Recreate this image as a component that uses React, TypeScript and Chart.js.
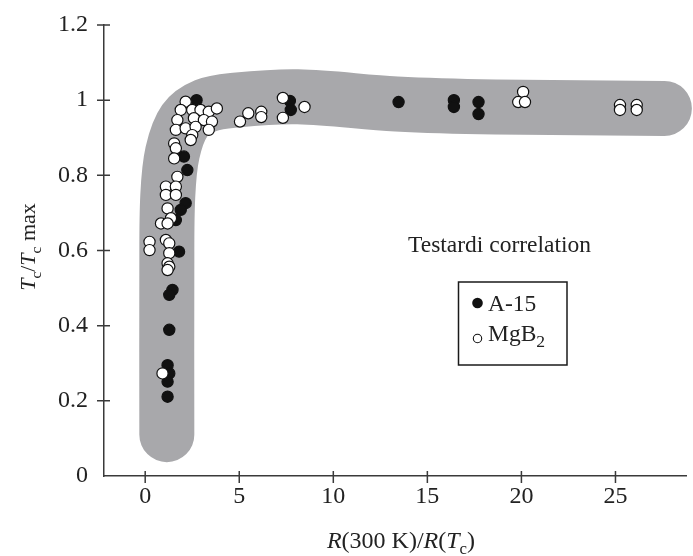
import React, { useEffect, useRef } from 'react';
import { Chart, registerables } from 'chart.js';

Chart.register(...registerables);

// ---- data ----
const seriesNames = ['A-15', 'MgB2'];
const annotationText = 'Testardi correlation';

const xTicks = [0, 5, 10, 15, 20, 25];
const yTicks = [0, 0.2, 0.4, 0.6, 0.8, 1, 1.2];

const a15X = [2.73, 2.06, 2.24, 2.15, 1.89, 1.63, 1.8, 1.45, 1.28, 1.28, 1.19, 1.28, 1.19, 1.19, 7.69, 7.74, 13.47, 16.41, 16.41, 17.72, 17.72];
const a15Y = [1.0, 0.85, 0.814, 0.726, 0.708, 0.681, 0.597, 0.495, 0.482, 0.389, 0.295, 0.273, 0.251, 0.211, 0.998, 0.974, 0.995, 1.0, 0.982, 0.995, 0.963];

const mgb2X = [2.15, 1.89, 2.5, 2.94, 3.38, 3.81, 1.71, 2.59, 3.12, 3.55, 1.63, 2.15, 2.68, 3.38, 2.5, 2.42, 1.54, 1.63, 1.54, 1.71, 1.1, 1.63, 1.1, 1.63, 1.19, 1.37, 0.84, 1.19, 0.23, 0.23, 1.1, 1.28, 1.28, 1.19, 1.28, 1.19, 0.92, 5.04, 5.48, 6.17, 6.17, 7.32, 7.32, 8.47, 20.09, 19.83, 20.19, 25.24, 25.24, 26.13, 26.13];
const mgb2Y = [0.996, 0.974, 0.974, 0.974, 0.969, 0.978, 0.947, 0.952, 0.947, 0.943, 0.921, 0.925, 0.929, 0.921, 0.907, 0.894, 0.885, 0.872, 0.845, 0.796, 0.77, 0.77, 0.748, 0.748, 0.712, 0.686, 0.672, 0.672, 0.623, 0.601, 0.628, 0.619, 0.593, 0.566, 0.557, 0.548, 0.273, 0.943, 0.965, 0.969, 0.955, 1.006, 0.953, 0.982, 1.022, 0.995, 0.995, 0.987, 0.974, 0.987, 0.974];

// centre line of the grey "Testardi correlation" band
const bandX = [1.15, 1.15, 1.2, 1.45, 2.1, 3.2, 4.8, 8.11, 13.36, 18.6, 27.6];
const bandY = [0.11, 0.55, 0.745, 0.86, 0.945, 0.985, 1.0, 1.009, 0.99, 0.982, 0.978];

// ---- styles ----
const SERIF = '"Liberation Serif", "Times New Roman", serif';
const INK = '#222222';
const AXIS = '#3a3a3a';
const BAND = '#a8a8ab';

const toPts = (xs: number[], ys: number[]) => xs.map((x, i) => ({ x, y: ys[i] }));

type Run = { t: string; italic?: boolean; sub?: boolean };

function drawRuns(ctx: CanvasRenderingContext2D, runs: Run[], x: number, y: number, size: number, align: 'left' | 'center', subScale = 0.7) {
  const fontFor = (r: Run) => `${r.italic ? 'italic ' : ''}${r.sub ? size * subScale : size}px ${SERIF}`;
  let total = 0;
  runs.forEach((r) => {
    ctx.font = fontFor(r);
    total += ctx.measureText(r.t).width;
  });
  let cx = align === 'center' ? x - total / 2 : x;
  ctx.textAlign = 'left';
  ctx.textBaseline = 'alphabetic';
  runs.forEach((r) => {
    ctx.font = fontFor(r);
    ctx.fillText(r.t, cx, y + (r.sub ? size * 0.25 : 0));
    cx += ctx.measureText(r.t).width;
  });
}

const decorPlugin = {
  id: 'decor',
  afterDraw(chart: any) {
    const { ctx, chartArea, scales } = chart;
    const xs = scales.x;
    const ys = scales.y;
    ctx.save();
    // crossing tick marks
    ctx.strokeStyle = AXIS;
    ctx.lineWidth = 1.5;
    ctx.beginPath();
    yTicks.forEach((v) => {
      if (v === 0) return;
      const py = ys.getPixelForValue(v);
      ctx.moveTo(chartArea.left - 7, py);
      ctx.lineTo(chartArea.left + 6, py);
    });
    xTicks.forEach((v) => {
      const px = xs.getPixelForValue(v);
      ctx.moveTo(px, chartArea.bottom - 5);
      ctx.lineTo(px, chartArea.bottom + 7);
    });
    ctx.stroke();

    ctx.fillStyle = INK;
    // annotation
    ctx.font = `23.5px ${SERIF}`;
    ctx.textAlign = 'left';
    ctx.textBaseline = 'alphabetic';
    ctx.fillText(annotationText, 408, 252);

    // legend box
    ctx.strokeStyle = '#1a1a1a';
    ctx.lineWidth = 1.5;
    ctx.strokeRect(458.5, 282, 108.5, 83);
    ctx.beginPath();
    ctx.arc(477.5, 303, 5.3, 0, Math.PI * 2);
    ctx.fillStyle = '#111';
    ctx.fill();
    ctx.beginPath();
    ctx.arc(477.5, 338.5, 4.2, 0, Math.PI * 2);
    ctx.fillStyle = '#fff';
    ctx.fill();
    ctx.lineWidth = 1.1;
    ctx.strokeStyle = '#111';
    ctx.stroke();
    ctx.fillStyle = INK;
    drawRuns(ctx, [{ t: seriesNames[0] }], 488, 311, 23.5, 'left');
    drawRuns(ctx, [{ t: seriesNames[1].slice(0, 3) }, { t: seriesNames[1].slice(3), sub: true }], 488, 341, 23.5, 'left', 0.75);

    // x axis title
    drawRuns(
      ctx,
      [
        { t: 'R', italic: true },
        { t: '(300 K)/' },
        { t: 'R', italic: true },
        { t: '(' },
        { t: 'T', italic: true },
        { t: 'c', sub: true },
        { t: ')' },
      ],
      401,
      548,
      24,
      'center'
    );

    // y axis title
    ctx.translate(35, 247);
    ctx.rotate(-Math.PI / 2);
    drawRuns(
      ctx,
      [
        { t: 'T', italic: true },
        { t: 'c', sub: true },
        { t: '/' },
        { t: 'T', italic: true },
        { t: 'c', sub: true },
        { t: ' max' },
      ],
      0,
      0,
      22,
      'center'
    );
    ctx.restore();
  },
};

export default function App() {
  const ref = useRef<HTMLCanvasElement | null>(null);

  useEffect(() => {
    if (!ref.current) return;
    const chart = new Chart(ref.current, {
      type: 'scatter',
      data: {
        datasets: [
          {
            label: seriesNames[1],
            data: toPts(mgb2X, mgb2Y),
            backgroundColor: '#ffffff',
            borderColor: '#111111',
            pointRadius: 5.6,
            pointHoverRadius: 5.6,
            pointBorderWidth: 1.2,
            order: 1,
          },
          {
            label: seriesNames[0],
            data: toPts(a15X, a15Y),
            backgroundColor: '#111111',
            borderColor: '#111111',
            pointRadius: 5.6,
            pointHoverRadius: 5.6,
            pointBorderWidth: 1.2,
            order: 2,
          },
          {
            type: 'line',
            label: 'band',
            data: toPts(bandX, bandY),
            borderColor: BAND,
            backgroundColor: BAND,
            borderWidth: 55,
            borderCapStyle: 'round',
            borderJoinStyle: 'round',
            pointRadius: 0,
            tension: 0.35,
            fill: false,
            showLine: true,
            clip: false,
            order: 3,
          } as any,
        ],
      },
      options: {
        responsive: false,
        animation: false,
        devicePixelRatio: 1,
        events: [],
        layout: { padding: { top: 25, right: 0, bottom: 0, left: 0 } },
        plugins: {
          legend: { display: false },
          tooltip: { enabled: false },
          title: { display: false },
        },
        scales: {
          x: {
            type: 'linear',
            min: -2.19,
            max: 28.76,
            afterBuildTicks: (s: any) => {
              s.ticks = xTicks.map((v) => ({ value: v }));
            },
            afterFit: (s: any) => {
              s.height = 80;
            },
            ticks: {
              font: { family: SERIF, size: 24 },
              color: INK,
              padding: 0,
              maxRotation: 0,
              callback: (v: any) => String(v),
            },
            grid: { display: false, drawTicks: true, tickLength: 6 },
            border: { display: true, color: AXIS, width: 1.5 },
          },
          y: {
            type: 'linear',
            min: 0,
            max: 1.2,
            afterBuildTicks: (s: any) => {
              s.ticks = yTicks.map((v) => ({ value: v }));
            },
            afterFit: (s: any) => {
              s.width = 104;
            },
            ticks: {
              font: { family: SERIF, size: 24 },
              color: INK,
              padding: 9,
              callback: (v: any) => String(v),
            },
            grid: { display: false, drawTicks: true, tickLength: 7 },
            border: { display: true, color: AXIS, width: 1.5 },
          },
        },
      },
      plugins: [decorPlugin],
    } as any);
    return () => chart.destroy();
  }, []);

  return (
    <div style={{ position: 'absolute', left: 0, top: 0, width: 693, height: 556, background: '#ffffff' }}>
      <canvas ref={ref} width={693} height={556} style={{ display: 'block' }} />
    </div>
  );
}
